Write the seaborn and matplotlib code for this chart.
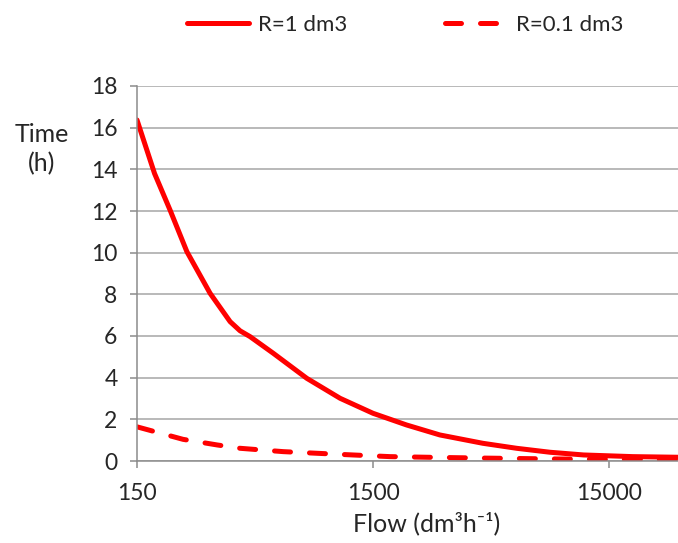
import matplotlib
matplotlib.use("Agg")
import matplotlib.pyplot as plt
import numpy as np
import pandas as pd
import seaborn as sns

# Flow (dm3/h) and time (h) for the two volumes
flow_r1 = [150, 178, 207, 244, 306, 372, 410, 452, 567, 786, 1088, 1500, 2080,
           2880, 4380, 6090, 8430, 11700, 18900, 29400]
time_r1 = [16.37, 13.8, 12.05, 10.05, 8.05, 6.69, 6.25, 5.97, 5.17, 3.97, 3.01,
           2.29, 1.73, 1.25, 0.85, 0.61, 0.42, 0.29, 0.21, 0.18]
flow_r01 = [150, 235, 328, 410, 624, 870, 1233, 1770, 2540, 4400, 8400, 15000, 29400]
time_r01 = [1.64, 1.04, 0.77, 0.61, 0.45, 0.37, 0.29, 0.21, 0.18, 0.14, 0.10, 0.08, 0.06]
series_names = ["R=1 dm3", "R=0.1 dm3"]
x_ticks = [150, 1500, 15000]
y_ticks = list(range(0, 19, 2))

df = pd.concat([
    pd.DataFrame({"flow": flow_r1, "time": time_r1, "series": series_names[0]}),
    pd.DataFrame({"flow": flow_r01, "time": time_r01, "series": series_names[1]}),
])

sns.set_theme(style="white")
plt.rcParams["font.family"] = ["Lato", "DejaVu Sans"]
text_color = "#262626"
axis_gray = "#8c8c8c"
red = "#ff0000"
lw = 3.6
dash = (3.2, 3.8)

fig = plt.figure(figsize=(6.78, 5.43), dpi=100)
ax = fig.add_axes([137 / 678, 82 / 543, 1 - 137 / 678, 375 / 543])

sns.lineplot(data=df, x="flow", y="time", hue="series", style="series",
             palette={series_names[0]: red, series_names[1]: red},
             dashes={series_names[0]: "", series_names[1]: dash},
             linewidth=lw, solid_capstyle="round", dash_capstyle="round",
             solid_joinstyle="round", sort=False, legend=True, ax=ax)

ax.set_xscale("log")
ax.set_xlim(150, 29400)
ax.set_ylim(0, 18)
ax.set_xticks(x_ticks)
ax.set_xticklabels([str(t) for t in x_ticks])
ax.xaxis.set_minor_locator(matplotlib.ticker.NullLocator())
ax.set_yticks(y_ticks)
ax.set_yticklabels([str(t) for t in y_ticks])

ax.grid(axis="y", color="#a6a6a6", linewidth=1.1)
ax.set_axisbelow(True)
for side in ["top", "right"]:
    ax.spines[side].set_visible(False)
for side in ["left", "bottom"]:
    ax.spines[side].set_color(axis_gray)
    ax.spines[side].set_linewidth(1.1)
ax.tick_params(axis="both", which="major", direction="out", length=5,
               width=1.1, color=axis_gray, labelsize=16.5, labelcolor=text_color)
ax.tick_params(axis="x", pad=11, bottom=True)
ax.tick_params(axis="y", pad=9, left=True)

ax.set_xlabel("Flow (dm³h⁻¹)", fontsize=18, color=text_color)
ax.xaxis.set_label_coords((427 - 137) / 541, -0.135)
ax.set_ylabel("")
fig.text(42 / 678, 1 - 149 / 543, "Time\n(h)", ha="center", va="center",
         fontsize=18, color=text_color, linespacing=1.3)

handles, labels = ax.get_legend_handles_labels()
ax.get_legend().remove()
for h in handles:
    h.set_linewidth(lw)
    h.set_color(red)
    h.set_solid_capstyle("round")
    h.set_dash_capstyle("round")
fig.legend(handles, labels, loc="center", bbox_to_anchor=(405 / 678, 1 - 25 / 543),
           ncol=2, frameon=False, fontsize=16, handlelength=2.8,
           columnspacing=4.4, handletextpad=0.4, labelcolor=text_color)

fig.savefig("out.png", dpi=100)
